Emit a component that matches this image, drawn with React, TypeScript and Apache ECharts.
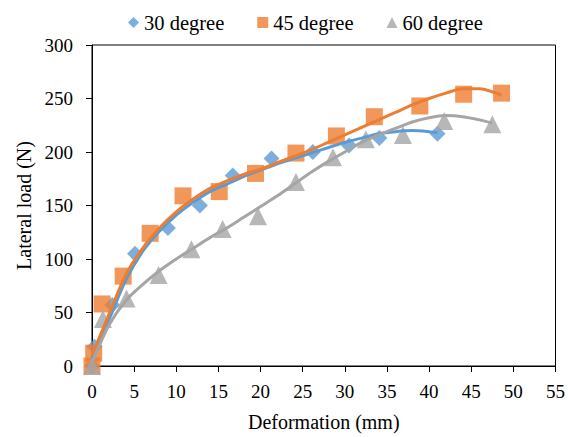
import React, { useEffect, useRef } from "react";
import * as echarts from "echarts";

// Measured data points
const deg30X = [0, 0.3, 2.4, 5.1, 9.0, 12.8, 16.7, 21.3, 26.2, 30.5, 34.1, 41.0];
const deg30Y = [0, 18, 57, 105, 129, 150, 178, 194, 200, 206, 213, 217];

const deg45X = [0, 0.2, 1.2, 3.7, 6.9, 10.8, 15.1, 19.4, 24.2, 29.0, 33.5, 38.9, 44.1, 48.6];
const deg45Y = [0, 12, 58, 84, 124, 159, 163, 180, 199, 215, 233, 243, 254, 255];

const deg60X = [0, 1.3, 4.1, 7.9, 11.8, 15.5, 19.7, 24.2, 28.6, 32.5, 36.9, 41.8, 47.5];
const deg60Y = [0, 44, 63, 85, 109, 128, 140, 172, 195, 212, 216, 229, 226];

// Trend lines
const trend30X = [0, 2, 4, 6, 8, 10, 12, 14, 16, 18, 20, 22, 24, 26, 28, 30, 32, 34, 36, 38, 40, 41];
const trend30Y = [8, 43, 80, 107, 126, 141, 153, 163, 170, 177, 183, 189, 194, 199, 204, 209, 213, 217, 219, 220, 219, 218];

const trend45X = [0, 2, 4, 6, 8, 10, 12, 14, 16, 18, 20, 22, 24, 26, 28, 30, 32, 34, 36, 38, 40, 42, 44, 46, 48, 48.6];
const trend45Y = [10, 48, 85, 110, 129, 144, 156, 166, 173, 179, 184, 190, 196, 202, 209, 216, 223, 230, 237, 244, 250, 255, 259, 259, 255, 253];

const trend60X = [0, 2, 4, 6, 8, 10, 12, 14, 16, 18, 20, 22, 24, 26, 28, 30, 32, 34, 36, 38, 40, 42, 44, 46, 47.5];
const trend60Y = [3, 38, 61, 76, 89, 100, 110, 120, 129, 139, 149, 159, 170, 181, 191, 200, 209, 216, 222, 228, 232, 234, 233, 230, 227];

const seriesNames = ["30 degree", "45 degree", "60 degree"];
const colors = ["#5B9BD5", "#ED7D31", "#A5A5A5"];

const zip = (xs: number[], ys: number[]) => xs.map((x, i) => [x, ys[i]]);

const FONT = "Liberation Serif";

export default function App() {
  const ref = useRef<HTMLDivElement>(null);

  useEffect(() => {
    if (!ref.current) return;
    const chart = echarts.init(ref.current, undefined, { renderer: "svg" });
    const pts = [zip(deg30X, deg30Y), zip(deg45X, deg45Y), zip(deg60X, deg60Y)];
    const trends = [zip(trend30X, trend30Y), zip(trend45X, trend45Y), zip(trend60X, trend60Y)];
    const symbols = ["diamond", "rect", "triangle"];
    const sizes = [16, 17, 18];

    chart.setOption({
      animation: false,
      textStyle: { fontFamily: FONT },
      legend: {
        data: seriesNames.map((n, i) => ({ name: n, icon: symbols[i] })),
        top: 7,
        left: 123,
        itemWidth: 11,
        itemHeight: 11,
        itemGap: 33,
        textStyle: { fontFamily: FONT, fontSize: 20.5, color: "#000" },
      },
      grid: {
        left: 92,
        right: 11,
        top: 45,
        bottom: 68,
        show: true,
        borderColor: "#000",
        borderWidth: 1,
        backgroundColor: "transparent",
      },
      xAxis: {
        type: "value",
        min: 0,
        max: 55,
        interval: 5,
        name: "Deformation (mm)",
        nameLocation: "middle",
        nameGap: 46,
        nameTextStyle: { fontFamily: FONT, fontSize: 20, color: "#000" },
        axisLine: { lineStyle: { color: "#000", width: 1 } },
        axisTick: { show: true, inside: false, length: 6, lineStyle: { color: "#000" } },
        axisLabel: { fontFamily: FONT, fontSize: 19, color: "#000", margin: 16 },
        splitLine: { show: false },
      },
      yAxis: {
        type: "value",
        min: 0,
        max: 300,
        interval: 50,
        name: "Lateral load (N)",
        nameLocation: "middle",
        nameGap: 58,
        nameTextStyle: { fontFamily: FONT, fontSize: 20, color: "#000" },
        axisLine: { show: true, lineStyle: { color: "#000", width: 1 } },
        axisTick: { show: true, inside: false, length: 6, lineStyle: { color: "#000" } },
        axisLabel: { fontFamily: FONT, fontSize: 19, color: "#000", margin: 19 },
        splitLine: { show: false },
      },
      series: [
        ...seriesNames.map((n, i) => ({
          name: n,
          type: "scatter",
          data: pts[i],
          symbol: symbols[i],
          symbolSize: sizes[i],
          itemStyle: { color: colors[i] },
          clip: false,
          z: 2,
        })),
        ...seriesNames.map((n, i) => ({
          name: n + " trend",
          type: "line",
          data: trends[i],
          smooth: 0.3,
          showSymbol: false,
          symbol: "none",
          lineStyle: { color: colors[i], width: 3 },
          clip: false,
          z: 3,
        })),
      ],
    });
    return () => chart.dispose();
  }, []);

  return (
    <div
      ref={ref}
      style={{ position: "fixed", left: 0, top: 0, width: 568, height: 437, background: "#fff" }}
    />
  );
}
